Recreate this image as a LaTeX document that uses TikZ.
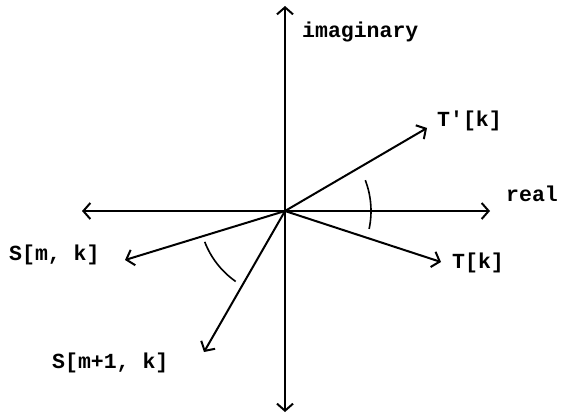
\documentclass[tikz,border=0pt]{standalone}
\usepackage{fontspec}
\setmonofont{Liberation Mono}
\usetikzlibrary{arrows.meta}
\begin{document}
\begin{tikzpicture}[x=1pt,y=-1pt,
  vec/.style={line width=2pt,-{Straight Barb[length=7pt,width=16pt,line width=2pt]}},
  arcline/.style={line width=1.6pt},
  lbl/.style={inner sep=0pt,anchor=base west,font=\ttfamily\bfseries\fontsize{21.5}{24}\selectfont}]
\useasboundingbox (0,0) rectangle (561,415);
\coordinate (O) at (285,211);
\coordinate (top) at (285,6);
\coordinate (bot) at (285,412);
\coordinate (left) at (82,211);
\coordinate (right) at (490,211);
\coordinate (tp) at (427,128);
\coordinate (t) at (441,262);
\coordinate (s) at (125,260);
\coordinate (s1) at (204,352);
\draw[vec] (O) -- (top);
\draw[vec] (O) -- (bot);
\draw[vec] (O) -- (left);
\draw[vec] (O) -- (right);
\draw[vec] (O) -- (tp);
\draw[vec] (O) -- (t);
\draw[vec] (O) -- (s);
\draw[vec] (O) -- (s1);
\draw[arcline] (O) ++(12:86) arc[start angle=12,end angle=-21,radius=86];
\draw[arcline] (O) ++(159:86) arc[start angle=159,end angle=125,radius=86];
\node[lbl] (im) at (302,37) {imaginary};
\node[lbl] (re) at (506,201) {real};
\node[lbl] (ltp) at (437,126) {T'[k]};
\node[lbl] (lt) at (452,268) {T[k]};
\node[lbl] (ls) at (9,260) {S[m, k]};
\node[lbl] (ls1) at (52,368) {S[m+1, k]};
\end{tikzpicture}
\end{document}
